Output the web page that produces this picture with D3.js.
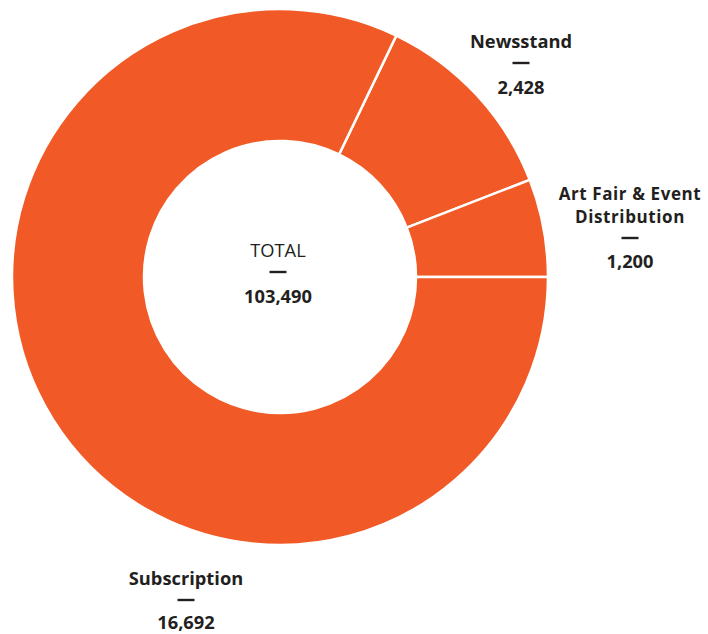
<!DOCTYPE html>
<html><head><meta charset="utf-8">
<script src="https://cdn.jsdelivr.net/npm/d3@7"></script>
<style>
html,body{margin:0;padding:0;background:#fff;}
text{font-family:"Open Sans",sans-serif;fill:#231f20;}
</style></head>
<body>
<svg id="c" width="708" height="634"></svg>
<script>
const categories = ["Newsstand", "Art Fair & Event Distribution", "Subscription"];
const values = [2428, 1200, 16692];
const valueLabels = ["2,428", "1,200", "16,692"];
const totalLabel = "103,490";

const svg = d3.select("#c");
const cx = 280, cy = 277, rOuter = 268, rInner = 136;
const color = "#f15a26";

const spanFirstTwo = (values[0] + values[1]) / d3.sum(values) * 2 * Math.PI;
const start = Math.PI / 2 - spanFirstTwo;
const pie = d3.pie().sort(null).value(d => d).startAngle(start).endAngle(start + 2 * Math.PI);
const arc = d3.arc().innerRadius(rInner).outerRadius(rOuter);

const g = svg.append("g").attr("transform", `translate(${cx},${cy})`);
g.selectAll("path").data(pie(values)).join("path")
  .attr("d", arc).attr("fill", color)
  .attr("stroke", "#fff").attr("stroke-width", 2.5);

function label(x, lines, value, y0, weight, gap, fs, lh, ls) {
  let y = y0;
  lines.forEach(l => {
    svg.append("text").attr("text-anchor", "middle").attr("font-size", fs)
      .attr("letter-spacing", ls).attr("font-weight", weight).attr("x", x).attr("y", y).text(l);
    y += lh;
  });
  const last = y - lh;
  svg.append("line").attr("x1", x - 8.5).attr("x2", x + 8.5).attr("y1", last + 15).attr("y2", last + 15)
    .attr("stroke", "#231f20").attr("stroke-width", 2.4);
  svg.append("text").attr("text-anchor", "middle").attr("font-size", 18.3)
    .attr("font-weight", 700).attr("x", x).attr("y", last + gap).text(value);
}
label(521, ["Newsstand"], valueLabels[0], 48, 700, 46, 18.3, 22, 0);
label(630, ["Art Fair & Event", "Distribution"], valueLabels[1], 199.5, 700, 45, 17, 23.5, 0.6);
label(186, ["Subscription"], valueLabels[2], 585, 700, 44, 18.3, 22, 0);
label(278, ["TOTAL"], totalLabel, 257, 400, 46, 18.3, 22, 0);
</script>
</body></html>
